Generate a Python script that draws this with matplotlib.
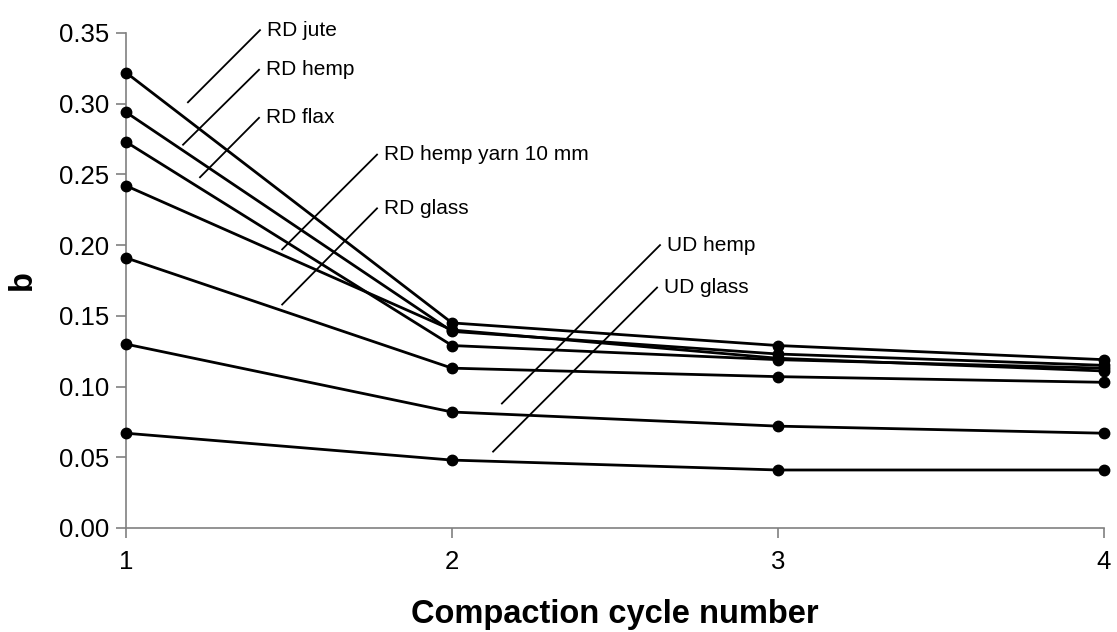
import matplotlib
matplotlib.use('Agg')
import matplotlib.pyplot as plt

plt.rcParams['font.family'] = ['Liberation Sans', 'DejaVu Sans']

# compaction cycles
cycles = [1, 2, 3, 4]

# b values per material
rd_jute = [0.322, 0.145, 0.129, 0.119]
rd_hemp = [0.294, 0.139, 0.123, 0.115]
rd_flax = [0.273, 0.129, 0.119, 0.113]
rd_hemp_yarn = [0.242, 0.140, 0.120, 0.111]
rd_glass = [0.191, 0.113, 0.107, 0.103]
ud_hemp = [0.130, 0.082, 0.072, 0.067]
ud_glass = [0.067, 0.048, 0.041, 0.041]

series = [rd_jute, rd_hemp, rd_flax, rd_hemp_yarn, rd_glass, ud_hemp, ud_glass]
labels = ['RD jute', 'RD hemp', 'RD flax', 'RD hemp yarn 10 mm', 'RD glass',
          'UD hemp', 'UD glass']

# leader lines for labels: (x0, y0, x1, y1) in data units
leaders = [
    (1.190, 0.301, 1.411, 0.352),
    (1.175, 0.271, 1.408, 0.324),
    (1.227, 0.248, 1.408, 0.290),
    (1.479, 0.197, 1.770, 0.264),
    (1.479, 0.158, 1.770, 0.226),
    (2.153, 0.088, 2.638, 0.200),
    (2.126, 0.054, 2.629, 0.170),
]

fig = plt.figure(figsize=(11.17, 6.32), dpi=100)
ax = fig.add_axes([0.1128, 0.1646, 0.8756, 0.7832])

for vals in series:
    ax.plot(cycles, vals, color='black', lw=2.0, marker='o', markersize=7.5,
            clip_on=False, zorder=3)

for lab, (x0, y0, x1, y1) in zip(labels, leaders):
    ax.plot([x0, x1], [y0, y1], color='black', lw=1.3, clip_on=False)
    ax.text(x1 + 0.022, y1, lab, fontsize=15, ha='left', va='center')

ax.set_xlim(1, 4)
ax.set_ylim(0, 0.35)
ax.set_xticks(cycles)
ax.set_yticks([0, 0.05, 0.10, 0.15, 0.20, 0.25, 0.30, 0.35])
ax.set_yticklabels([f'{v:.2f}' for v in ax.get_yticks()])

for s in ['top', 'right']:
    ax.spines[s].set_visible(False)
for s in ['left', 'bottom']:
    ax.spines[s].set_color('#808080')
    ax.spines[s].set_linewidth(1.2)

ax.tick_params(axis='both', labelsize=18.5, length=7, width=1.2, color='#808080')
ax.tick_params(axis='x', pad=9)
ax.tick_params(axis='y', pad=5)

ax.set_xlabel('Compaction cycle number', fontsize=23.5, fontweight='bold', labelpad=18)
ax.set_ylabel('b', fontsize=23.5, fontweight='bold', labelpad=15)

fig.savefig('out.png', dpi=100)
